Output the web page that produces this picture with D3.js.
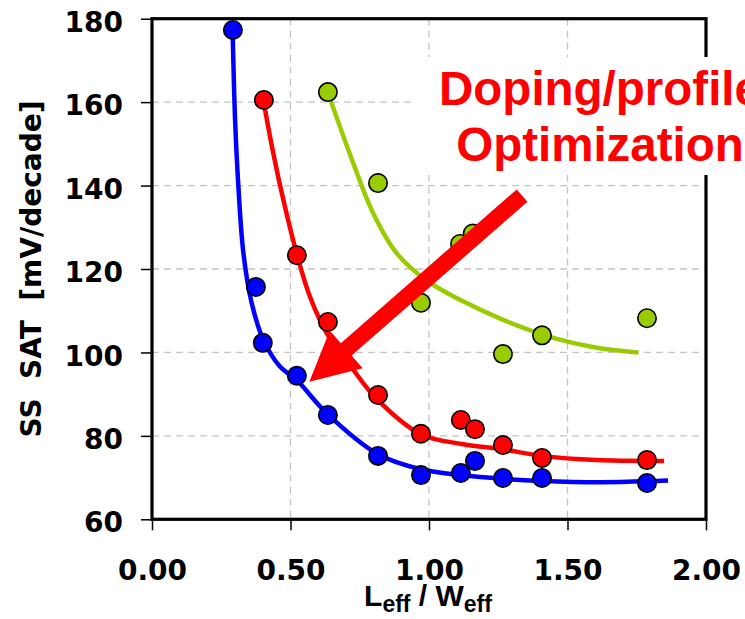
<!DOCTYPE html>
<html>
<head>
<meta charset="utf-8">
<script src="https://cdn.jsdelivr.net/npm/d3@7"></script>
<style>
	body { margin: 0; background: white; }
	svg { display: block; }
</style>
</head>
<body>
<svg id="plot" width="745" height="619"></svg>
<script>

// measured points [Leff/Weff, SS SAT]
const BLUE_POINTS = [[0.292,177.3],[0.375,115.7],[0.40,102.3],[0.523,94.4],[0.635,85.0],[0.816,75.2],
	[0.971,70.6],[1.115,71.1],[1.166,74.0],[1.267,69.9],[1.408,69.9],[1.787,68.7]];
const RED_POINTS = [[0.404,160.5],[0.523,123.3],[0.635,107.3],[0.816,89.8],[0.971,80.5],[1.115,83.8],
	[1.166,81.6],[1.267,77.8],[1.408,74.7],[1.787,74.2]];
const GREEN_POINTS = [[0.635,162.4],[0.816,140.6],[0.971,111.9],[1.112,126.0],[1.158,128.5],
	[1.267,99.6],[1.408,104.1],[1.787,108.2]];

// fitted curves
const BLUE_FIT = [[0.291,177.3],[0.300,155.7],[0.312,139.7],[0.330,123.8],[0.360,111.8],[0.402,103.0],
	[0.462,96.6],[0.522,93.4],[0.631,85.4],[0.816,75.6],[0.971,72.0],[1.116,70.6],[1.267,69.7],
	[1.408,69.2],[1.617,68.9],[1.787,69.1],[1.863,69.3]];
const RED_FIT = [[0.402,160.5],[0.438,147.7],[0.480,134.9],[0.522,123.8],[0.570,113.4],[0.631,104.6],
	[0.727,95.8],[0.812,88.8],[0.970,80.4],[1.124,78.0],[1.265,76.8],[1.407,75.2],[1.605,74.2],[1.849,74.0]];
const GREEN_FIT = [[0.636,162.1],[0.727,145.3],[0.799,133.3],[0.883,123.8],[0.992,117.2],[1.112,112.6],
	[1.268,107.8],[1.449,103.5],[1.600,101.2],[1.756,100.0]];

const X_TICKS = [0, 0.5, 1.0, 1.5, 2.0];
const Y_TICKS = [60, 80, 100, 120, 140, 160, 180];

// arrow from [x,y] to [x,y] in data units
const ARROW = [[1.336,137.6],[0.568,93.0]];
const NOTE = ['Doping/profile', 'Optimization'];

const box = { left: 152, right: 706, top: 18.7, bottom: 519.3 };

function draw() {
	const svg = d3.select('#plot');

	const x = d3.scaleLinear().domain([0, 2]).range([box.left, box.right]);
	const y = d3.scaleLinear().domain([60, 180]).range([box.bottom, box.top]);

	// dashed grid
	svg.append('g').selectAll('line.gy')
		.data(Y_TICKS.slice(1, -1))
		.enter().append('line')
		.attr('x1', box.left).attr('x2', box.right)
		.attr('y1', d => y(d)).attr('y2', d => y(d))
		.style('stroke', '#c4c4c4').style('stroke-width', 1.3).style('stroke-dasharray', '7,5');
	svg.append('g').selectAll('line.gx')
		.data(X_TICKS.slice(1, -1))
		.enter().append('line')
		.attr('y1', box.top).attr('y2', box.bottom)
		.attr('x1', d => x(d)).attr('x2', d => x(d))
		.style('stroke', '#c4c4c4').style('stroke-width', 1.3).style('stroke-dasharray', '7,5');

	// axes
	const yAxis = svg.append('g')
		.attr('transform', `translate(${box.left},0)`)
		.call(d3.axisLeft(y).tickValues(Y_TICKS).tickFormat(d3.format('d'))
			.tickSize(11).tickSizeOuter(0).tickPadding(18));
	const xAxis = svg.append('g')
		.attr('transform', `translate(0,${box.bottom})`)
		.call(d3.axisBottom(x).tickValues(X_TICKS).tickFormat(d3.format('.2f'))
			.tickSize(11).tickSizeOuter(0).tickPadding(30));
	[yAxis, xAxis].forEach(a => {
		a.select('.domain').remove();
		a.selectAll('line').style('stroke', 'black').style('stroke-width', 1.5);
		a.selectAll('text')
			.style('font-family', '"DejaVu Sans", Verdana, sans-serif')
			.style('font-weight', 'bold')
			.style('font-size', '28px')
			.style('fill', 'black');
	});
	yAxis.selectAll('text').attr('dy', '0.45em');

	// frame
	svg.append('rect')
		.attr('x', box.left).attr('y', box.top)
		.attr('width', box.right - box.left).attr('height', box.bottom - box.top)
		.style('fill', 'none').style('stroke', 'black').style('stroke-width', 3.2);

	// fitted curves
	const line = d3.line().x(d => x(d[0])).y(d => y(d[1])).curve(d3.curveCatmullRom.alpha(0.5));
	const series = [
		{ fit: GREEN_FIT, pts: GREEN_POINTS, color: '#99cc00' },
		{ fit: RED_FIT, pts: RED_POINTS, color: '#ff0000' },
		{ fit: BLUE_FIT, pts: BLUE_POINTS, color: '#0000ff' }
	];
	series.forEach(s => {
		svg.append('path')
			.datum(s.fit)
			.attr('d', line)
			.style('fill', 'none').style('stroke', s.color).style('stroke-width', 4.5);
	});
	series.forEach(s => {
		svg.append('g').selectAll('circle')
			.data(s.pts)
			.enter().append('circle')
			.attr('cx', d => x(d[0]))
			.attr('cy', d => y(d[1]))
			.attr('r', 9.2)
			.style('fill', s.color).style('stroke', 'black').style('stroke-width', 1.6);
	});

	// big arrow
	const p0 = [x(ARROW[0][0]), y(ARROW[0][1])];
	const p1 = [x(ARROW[1][0]), y(ARROW[1][1])];
	const len = Math.hypot(p1[0] - p0[0], p1[1] - p0[1]);
	const ux = (p1[0] - p0[0]) / len, uy = (p1[1] - p0[1]) / len;
	const nx = -uy, ny = ux;
	const shaft = 8.2, head = 25, headLen = 49;
	const bx = p1[0] - ux * headLen, by = p1[1] - uy * headLen;
	const poly = [
		[p0[0] + nx * shaft, p0[1] + ny * shaft],
		[bx + nx * shaft, by + ny * shaft],
		[bx + nx * head, by + ny * head],
		p1,
		[bx - nx * head, by - ny * head],
		[bx - nx * shaft, by - ny * shaft],
		[p0[0] - nx * shaft, p0[1] - ny * shaft]
	];
	svg.append('polygon')
		.attr('points', poly.map(p => p.join(',')).join(' '))
		.style('fill', '#ff0000');

	// note box (runs past the right edge like in the slide)
	svg.append('rect')
		.attr('x', 412).attr('y', 57).attr('width', 333).attr('height', 118)
		.style('fill', 'white');
	svg.append('g').selectAll('text')
		.data(NOTE)
		.enter().append('text')
		.attr('x', 600)
		.attr('y', (d, i) => 105 + i * 56)
		.attr('text-anchor', 'middle')
		.style('font-family', '"Liberation Sans", Arial, sans-serif')
		.style('font-weight', 'bold')
		.style('font-size', '47.5px')
		.style('fill', '#ff0000')
		.text(d => d);

	// axis titles
	svg.append('text')
		.attr('transform', `translate(41,${(box.top + box.bottom) / 2}) rotate(-90)`)
		.attr('text-anchor', 'middle')
		.style('white-space', 'pre')
		.style('font-family', '"DejaVu Sans", Verdana, sans-serif')
		.style('font-weight', 'bold')
		.style('font-size', '28px')
		.text('SS  SAT  [mV/decade]');

	const xt = svg.append('text')
		.attr('x', 428).attr('y', 606)
		.attr('text-anchor', 'middle')
		.style('white-space', 'pre')
		.style('font-family', '"Liberation Sans", Arial, sans-serif')
		.style('font-weight', 'bold')
		.style('font-size', '30px');
	xt.append('tspan').text('L');
	xt.append('tspan').attr('dy', 6).style('font-size', '23px').text('eff');
	xt.append('tspan').attr('dy', -6).text(' / W');
	xt.append('tspan').attr('dy', 6).style('font-size', '23px').text('eff');
}

draw();
</script>
</body>
</html>
